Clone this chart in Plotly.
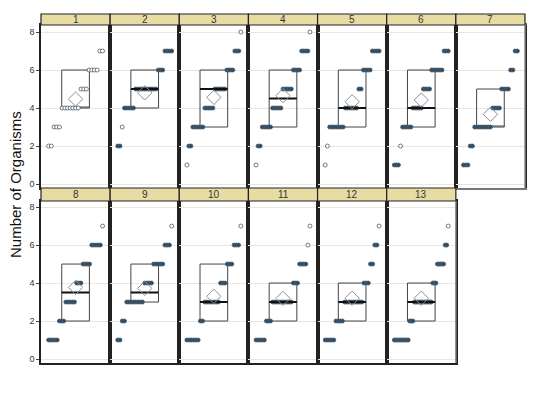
import plotly.graph_objects as go

# ---- data ----
panels = ["1", "2", "3", "4", "5", "6", "7", "8", "9", "10", "11", "12", "13"]
values = [0, 1, 2, 3, 4, 5, 6, 7, 8]
# number of plotted observations at each value (0..8) per panel
counts_p1 = [0, 0, 2, 3, 7, 3, 4, 2, 0]
counts_p2 = [0, 0, 2, 1, 5, 10, 3, 4, 0]
counts_p3 = [0, 1, 2, 6, 5, 6, 4, 3, 1]
counts_p4 = [0, 1, 2, 5, 5, 5, 4, 4, 1]
counts_p5 = [0, 1, 1, 7, 6, 2, 4, 4, 0]
counts_p6 = [0, 3, 1, 5, 5, 4, 6, 3, 0]
counts_p7 = [0, 3, 2, 8, 4, 4, 2, 2, 0]
counts_p8 = [0, 5, 3, 5, 3, 4, 5, 1, 0]
counts_p9 = [0, 2, 2, 8, 4, 5, 3, 1, 0]
counts_p10 = [0, 6, 2, 7, 3, 3, 3, 1, 0]
counts_p11 = [0, 5, 3, 10, 3, 4, 1, 1, 0]
counts_p12 = [0, 5, 4, 9, 3, 2, 2, 1, 0]
counts_p13 = [0, 10, 3, 12, 3, 5, 2, 1, 0]
all_counts = [counts_p1, counts_p2, counts_p3, counts_p4, counts_p5, counts_p6, counts_p7,
              counts_p8, counts_p9, counts_p10, counts_p11, counts_p12, counts_p13]
# stacked (dark) markers per panel
stacked = [False, True, True, True, True, True, True, True, True, True, True, True, True]

q1 = [4, 4, 3, 3, 3, 3, 3, 2, 3, 2, 2, 2, 2]
median = [4, 5, 5, 4.5, 4, 4, 3, 3.5, 3.5, 3, 3, 3, 3]
q3 = [6, 6, 6, 6, 6, 6, 5, 5, 5, 5, 4, 4, 4]
means = [4.47, 4.8, 4.56, 4.65, 4.33, 4.42, 3.67, 3.77, 3.72, 3.3, 3.19, 3.2, 3.2]

y_ticks = [0, 2, 4, 6, 8]

# ---- layout constants (page body has an 8px margin) ----
OFF = 8
W, H = 540 - OFF, 393 - OFF
ML, MR, MT, MB = 41 - OFF, 15, 14 - OFF, 30
PH = H - MT - MB
ncol = 7
row_dom = [[(363 - 188) / PH, (363 - 25) / PH], [0.0, (363 - 201) / PH]]
strip_dom = [[(363 - 25) / PH, 1.0], [(363 - 201) / PH, (363 - 188) / PH]]
row_range = [[-0.21, 8.37], [-0.21, 8.32]]

DARK = "#284b67"
fig = go.Figure()
layout = dict(
    width=W, height=H, margin=dict(l=ML, r=MR, t=MT, b=MB, autoexpand=False),
    paper_bgcolor="white", plot_bgcolor="white", showlegend=False,
    font=dict(family="Liberation Sans, Arial, sans-serif", color="#222"),
)
shapes, annotations = [], []

for i, name in enumerate(panels):
    row = 0 if i < 7 else 1
    col = i if i < 7 else i - 7
    ax = "" if i == 0 else str(i + 1)
    xd = [col / ncol, (col + 1) / ncol]
    last = (i == 6 or i == 12)
    layout["xaxis" + ax] = dict(
        domain=xd, range=[0, 1], showticklabels=False, ticks="", showgrid=False,
        zeroline=False, showline=True, mirror=True,
        linecolor="#777" if i == 6 else "#222", linewidth=1.5,
        anchor="y" + ax, fixedrange=True, automargin=False)
    layout["yaxis" + ax] = dict(
        domain=row_dom[row], range=row_range[row], tickvals=y_ticks,
        showticklabels=(col == 0), ticks="outside" if col == 0 else "", ticklen=3,
        tickcolor="#444", tickfont=dict(size=9, color="#333"),
        showgrid=True, gridcolor="#e6e6e6", gridwidth=1, zeroline=False,
        showline=True, mirror=True, linecolor="#222", linewidth=1.5,
        anchor="x" + ax, fixedrange=True, automargin=False)

    # strip header
    shapes.append(dict(type="rect", xref="paper", yref="paper",
                       x0=xd[0], x1=xd[1], y0=strip_dom[row][0], y1=strip_dom[row][1],
                       fillcolor="#e6dca4", line=dict(color="#222", width=1.2), layer="above"))
    annotations.append(dict(text=name, xref="paper", yref="paper",
                            x=(xd[0] + xd[1]) / 2, y=(strip_dom[row][0] + strip_dom[row][1]) / 2,
                            showarrow=False, font=dict(size=10, color="#333"),
                            xanchor="center", yanchor="middle"))
    if last:
        # lighter outer right edge
        shapes.append(dict(type="line", xref="x" + ax + " domain", yref="y" + ax + " domain",
                           x0=1, x1=1, y0=0, y1=1, line=dict(color="#888", width=1.5)))

    # points: sorted observations spread by rank
    cnt = all_counts[i]
    obs = []
    for v, c in zip(values, cnt):
        obs += [v] * c
    n = len(obs)
    xs = [0.11 + r * 0.78 / (n - 1) for r in range(n)]
    cols = []
    for v in obs:
        filled = stacked[i] and cnt[values.index(v)] > 1
        cols.append(DARK if filled else "white")
    fig.add_trace(go.Scatter(
        x=xs, y=obs, mode="markers", xaxis="x" + ax, yaxis="y" + ax,
        marker=dict(symbol="circle", size=4, color=cols,
                    line=dict(color="#4d5b66", width=0.8)),
        hoverinfo="skip"))

    # box (no whiskers)
    fig.add_trace(go.Box(
        x=[0.5], q1=[q1[i]], median=[median[i]], q3=[q3[i]],
        lowerfence=[q1[i]], upperfence=[q3[i]], width=0.4, whiskerwidth=0,
        fillcolor="rgba(0,0,0,0)", line=dict(color="#444", width=1),
        xaxis="x" + ax, yaxis="y" + ax, boxpoints=False, hoverinfo="skip"))
    # thicker median line (only where it is distinct from the box edges)
    if q1[i] < median[i] < q3[i]:
        fig.add_trace(go.Scatter(
            x=[0.3, 0.7], y=[median[i], median[i]], mode="lines",
            line=dict(color="#111", width=2), xaxis="x" + ax, yaxis="y" + ax,
            hoverinfo="skip"))
    # mean diamond
    fig.add_trace(go.Scatter(
        x=[0.5], y=[means[i]], mode="markers", xaxis="x" + ax, yaxis="y" + ax,
        marker=dict(symbol="diamond-open", size=11, color="#8a8f96",
                    line=dict(width=1)),
        hoverinfo="skip"))

annotations.append(dict(text="Number of Organisms", xref="paper", yref="paper",
                        x=(15 - 41) / (W - ML - MR), y=(363 - 185) / PH, textangle=-90,
                        showarrow=False, font=dict(size=15, color="#111"),
                        xanchor="center", yanchor="middle"))

layout["shapes"] = shapes
layout["annotations"] = annotations
fig.update_layout(**layout)
fig.write_html("out.html")
